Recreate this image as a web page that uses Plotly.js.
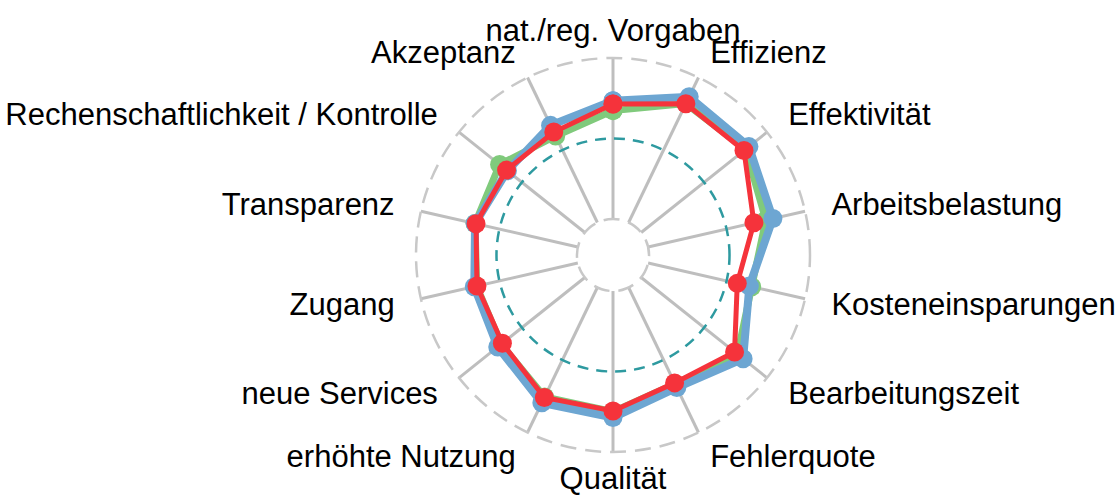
<!DOCTYPE html>
<html>
<head>
<meta charset="utf-8">
<script src="https://cdn.plot.ly/plotly-3.0.1.min.js"></script>
<style>html,body{margin:0;padding:0;background:#fff;}#chart{width:1117px;height:501px;}</style>
</head>
<body>
<div id="chart"></div>
<script>
// Categories (clockwise from top)
var categories = ['nat./reg. Vorgaben','Effizienz','Effektivität','Arbeitsbelastung','Kosteneinsparungen','Bearbeitungszeit','Fehlerquote','Qualität','erhöhte Nutzung','neue Services','Zugang','Transparenz','Rechenschaftlichkeit / Kontrolle','Akzeptanz'];

// Series values (0 = grid min, 0.5 = grid mid, 1 = grid max)
var seriesBlue  = [0.734, 0.867, 0.856, 0.795, 0.645, 0.810, 0.690, 0.786, 0.795, 0.692, 0.660, 0.655, 0.615, 0.670];
var seriesGreen = [0.673, 0.820, 0.830, 0.750, 0.660, 0.765, 0.665, 0.750, 0.755, 0.665, 0.645, 0.655, 0.677, 0.597];
var seriesRed   = [0.714, 0.819, 0.817, 0.674, 0.568, 0.742, 0.658, 0.745, 0.759, 0.655, 0.643, 0.649, 0.622, 0.624];

// Grid values
var gridMin = 0, gridMid = 0.5, gridMax = 1;

function closed(arr){ return arr.concat([arr[0]]); }

var FONT = '"Liberation Sans", Arial, Helvetica, sans-serif';

function series(name, vals, color, lw){
  return {
    type: 'scatterpolar', subplot: 'polar', name: name,
    r: closed(vals), theta: closed(categories),
    mode: 'lines+markers',
    line: {color: color, width: lw},
    marker: {color: color, size: 19},
    hoverinfo: 'skip', showlegend: false, cliponaxis: false
  };
}

var n = categories.length;
var labelPos = categories.map(function(c, i){
  if (i === 0 || i * 2 === n) return 'middle center';
  return (i < n / 2) ? 'middle right' : 'middle left';
});

// geometry
var R = 197, cx = 613, cyTop = 255, W = 1117, H = 501;
var hole = 0.183;
var RL = 240;            // radius of the (invisible) label ring subplot
var labelDist = 224;     // label distance from centre, px
var cyB = H - cyTop;
var dom  = {x: [(cx - R)/W, (cx + R)/W], y: [(cyB - R)/H, (cyB + R)/H]};
var cyL = cyB - 2;
var domL = {x: [(cx - RL)/W, (cx + RL)/W], y: [(cyL - RL)/H, (cyL + RL)/H]};

// overlay subplot for the grey min / max circles: slightly padded range,
// geometry chosen so that its gridlines land on the main subplot's min / max radii
var eps = 0.015;
var holePx = hole * R, span = R - holePx;
var span2 = span * (1 + 2 * eps);
var hole2Px = holePx - eps * span;
var R2 = hole2Px + span2;
var hole2 = hole2Px / R2;
var dom2 = {x: [(cx - R2)/W, (cx + R2)/W], y: [(cyB - R2)/H, (cyB + R2)/H]};

var data = [
  series('Gruppe 2', seriesGreen, '#80CA7C', 7),
  series('Gruppe 1', seriesBlue, '#6DA6D2', 8),
  series('Gruppe 3', seriesRed, '#F5333B', 5),
  // axis labels on an invisible outer ring
  {type: 'scatterpolar', subplot: 'polar3', r: categories.map(function(){ return labelDist / RL; }), theta: categories,
   mode: 'text', text: categories, textposition: labelPos,
   textfont: {family: FONT, size: 31, color: '#000000'},
   cliponaxis: false, hoverinfo: 'skip', showlegend: false},
  // invisible trace to activate the overlay polar subplot (outer / inner gridlines)
  {type: 'scatterpolar', subplot: 'polar2', r: [gridMid], theta: [categories[0]], mode: 'markers',
   marker: {opacity: 0}, hoverinfo: 'skip', showlegend: false}
];

var hiddenAngular = {
  type: 'category', categoryarray: categories, direction: 'clockwise', rotation: 90,
  showline: false, showgrid: false, showticklabels: false, ticks: ''
};

var layout = {
  width: W, height: H,
  margin: {l: 0, r: 0, t: 0, b: 0, pad: 0},
  paper_bgcolor: '#ffffff',
  showlegend: false,
  font: {family: FONT, color: '#000000'},
  polar: {
    domain: dom, hole: hole, bgcolor: 'rgba(0,0,0,0)',
    radialaxis: {
      range: [gridMin, gridMax], tickvals: [gridMid], showticklabels: false, ticks: '',
      showline: false, gridcolor: '#2E9AA0', gridwidth: 2.5, griddash: '11px,8px'
    },
    angularaxis: {
      type: 'category', categoryarray: categories, direction: 'clockwise', rotation: 90,
      showline: false, gridcolor: '#BEBEBE', gridwidth: 3,
      ticks: '', showticklabels: false
    }
  },
  polar2: {
    domain: dom2, hole: hole2, bgcolor: 'rgba(0,0,0,0)',
    radialaxis: {
      range: [gridMin - eps, gridMax + eps], tickvals: [gridMin, gridMax], showticklabels: false, ticks: '',
      showline: false, gridcolor: '#C8C8C8', gridwidth: 2.5, griddash: '16px,9px'
    },
    angularaxis: hiddenAngular
  },
  polar3: {
    domain: domL, hole: 0, bgcolor: 'rgba(0,0,0,0)',
    radialaxis: {range: [0, 1], showgrid: false, showline: false, showticklabels: false, ticks: ''},
    angularaxis: hiddenAngular
  }
};

Plotly.newPlot('chart', data, layout, {staticPlot: true, displayModeBar: false});
</script>
</body>
</html>
